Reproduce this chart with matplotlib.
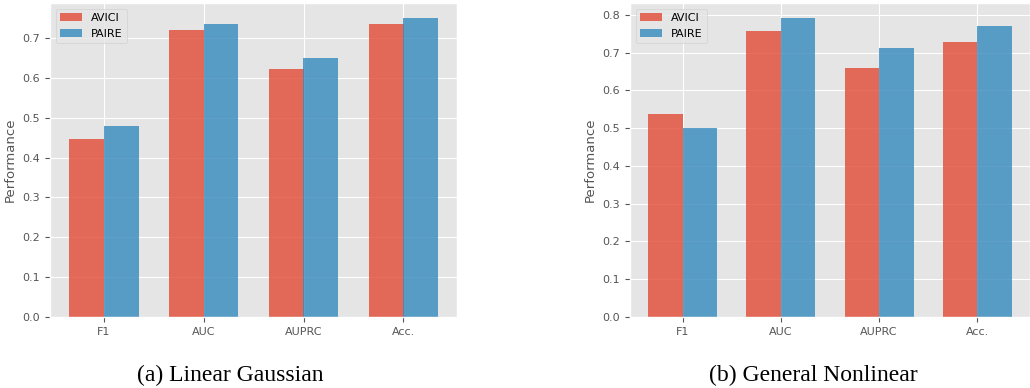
import matplotlib
matplotlib.use("Agg")
import matplotlib.pyplot as plt
import numpy as np

plt.style.use("ggplot")

metrics = ["F1", "AUC", "AUPRC", "Acc."]
methods = ["AVICI", "PAIRE"]
linear_avici = [0.446, 0.720, 0.622, 0.735]
linear_paire = [0.479, 0.735, 0.650, 0.750]
nonlin_avici = [0.538, 0.758, 0.660, 0.729]
nonlin_paire = [0.500, 0.792, 0.713, 0.771]
captions = ["(a) Linear Gaussian", "(b) General Nonlinear"]

fig = plt.figure(figsize=(10.30, 3.88), dpi=100)
ax1 = fig.add_axes([50/1030, 1-317/388, 407/1030, 314/388])
ax2 = fig.add_axes([630/1030, 1-317/388, 400/1030, 314/388])

w = 0.35
x = np.arange(len(metrics))
for ax, a, p in [(ax1, linear_avici, linear_paire),
                 (ax2, nonlin_avici, nonlin_paire)]:
    ax.bar(x - w/2, a, w, label=methods[0], color="#E24A33", alpha=0.8)
    ax.bar(x + w/2, p, w, label=methods[1], color="#348ABD", alpha=0.8)
    ax.set_xticks(x)
    ax.set_xticklabels(metrics, fontsize=8)
    ax.tick_params(axis="y", labelsize=8)
    ax.set_ylabel("Performance", fontsize=9.5)
    ax.legend(loc="upper left", fontsize=8)

for cx, cap in [(230, captions[0]), (813, captions[1])]:
    fig.text(cx/1030, 1-375/388, cap, ha="center", va="center",
             fontsize=17, family="Liberation Serif", color="black")

fig.savefig("out.png", dpi=100)
